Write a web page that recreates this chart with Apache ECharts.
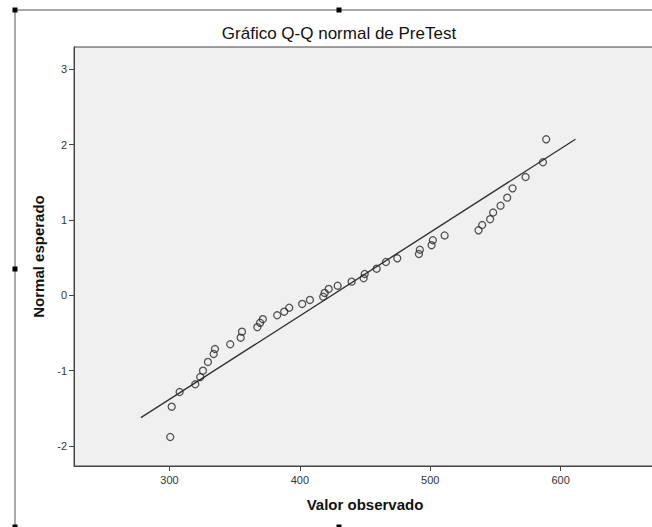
<!DOCTYPE html>
<html>
<head>
<meta charset="utf-8">
<script src="https://cdn.jsdelivr.net/npm/echarts@6/dist/echarts.min.js"></script>
<style>
html,body{margin:0;padding:0;background:#fff;}
#chart{width:652px;height:527px;}
</style>
</head>
<body>
<div id="chart"></div>
<script>
// Observed values (x) and expected normal values (y)
var observed = [300.6, 301.7, 307.8, 319.8, 323.6, 325.7, 329.5, 333.9, 334.9, 346.6,
  354.6, 355.6, 367.4, 369.5, 371.6, 382.6, 388.0, 391.8, 401.8, 407.7,
  417.9, 419.0, 422.1, 429.0, 439.7, 448.9, 449.7, 458.9, 466.0, 474.7,
  491.3, 492.0, 501.0, 502.0, 511.0, 537.0, 539.8, 545.9, 548.2, 553.9,
  559.0, 563.1, 573.1, 586.4, 588.9];
var expectedNormal = [-1.881, -1.479, -1.284, -1.181, -1.085, -1.001, -0.885, -0.779, -0.713, -0.650,
  -0.563, -0.483, -0.423, -0.365, -0.317, -0.265, -0.218, -0.165, -0.115, -0.062,
  -0.019, 0.031, 0.084, 0.127, 0.181, 0.226, 0.283, 0.353, 0.442, 0.491,
  0.548, 0.605, 0.665, 0.731, 0.794, 0.863, 0.933, 1.010, 1.099, 1.189,
  1.296, 1.420, 1.570, 1.766, 2.071];
// Reference line endpoints
var lineX = [278.1, 611.3];
var lineY = [-1.625, 2.071];
var xTicks = [300, 400, 500, 600];
var yTicks = [-2, -1, 0, 1, 2, 3];

var points = observed.map(function (v, i) { return [v, expectedNormal[i]]; });
var linePts = lineX.map(function (v, i) { return [v, lineY[i]]; });

var chart = echarts.init(document.getElementById('chart'), null, {renderer: 'svg'});
var handle = function (cx, cy) {
  return {type: 'rect', shape: {x: cx - 2.5, y: cy - 2.5, width: 5, height: 5}, style: {fill: '#000'}, z: 100};
};
chart.setOption({
  animation: false,
  backgroundColor: '#fff',
  grid: {left: 74, top: 47, width: 582, height: 419, show: true, backgroundColor: '#f0f0f0',
    borderColor: '#444', borderWidth: 1, outerBoundsMode: 'none'},
  graphic: [
    {type: 'rect', shape: {x: 15, y: 10, width: 648, height: 518}, style: {fill: 'none', stroke: '#555', lineWidth: 1}, z: 99},
    handle(15, 10), handle(339, 10), handle(15, 269), handle(15, 527), handle(339, 527),
    {type: 'text', x: 339, y: 33, style: {text: 'Gráfico Q-Q normal de PreTest', textAlign: 'center', textVerticalAlign: 'middle',
      font: '17px "Liberation Sans", Arial, sans-serif', fill: '#111'}, z: 100}
  ],
  xAxis: {
    type: 'value', min: 226.8, max: 673.1,
    name: 'Valor observado', nameLocation: 'middle', nameGap: 31,
    nameTextStyle: {fontFamily: 'Liberation Sans', fontWeight: 'bold', fontSize: 15, color: '#111'},
    splitLine: {show: false},
    axisLine: {show: true, onZero: false, lineStyle: {color: '#444'}},
    axisTick: {show: true, length: 5, customValues: xTicks, lineStyle: {color: '#444'}},
    axisLabel: {customValues: xTicks, fontFamily: 'Liberation Sans', fontSize: 11, color: '#333', margin: 8}
  },
  yAxis: {
    type: 'value', min: -2.266, max: 3.296,
    name: 'Normal esperado', nameLocation: 'middle', nameGap: 27,
    nameTextStyle: {fontFamily: 'Liberation Sans', fontWeight: 'bold', fontSize: 15, color: '#111'},
    splitLine: {show: false},
    axisLine: {show: true, onZero: false, lineStyle: {color: '#444'}},
    axisTick: {show: true, length: 5, customValues: yTicks, lineStyle: {color: '#444'}},
    axisLabel: {customValues: yTicks, fontFamily: 'Liberation Sans', fontSize: 11, color: '#333', margin: 7}
  },
  series: [
    {type: 'line', data: linePts, symbol: 'none', lineStyle: {color: '#333', width: 1.4}, z: 2},
    {type: 'scatter', data: points, symbol: 'circle', symbolSize: 7,
      itemStyle: {color: 'rgba(0,0,0,0)', borderColor: '#2a2a2a', borderWidth: 1.3}, z: 3}
  ]
});
</script>
</body>
</html>
